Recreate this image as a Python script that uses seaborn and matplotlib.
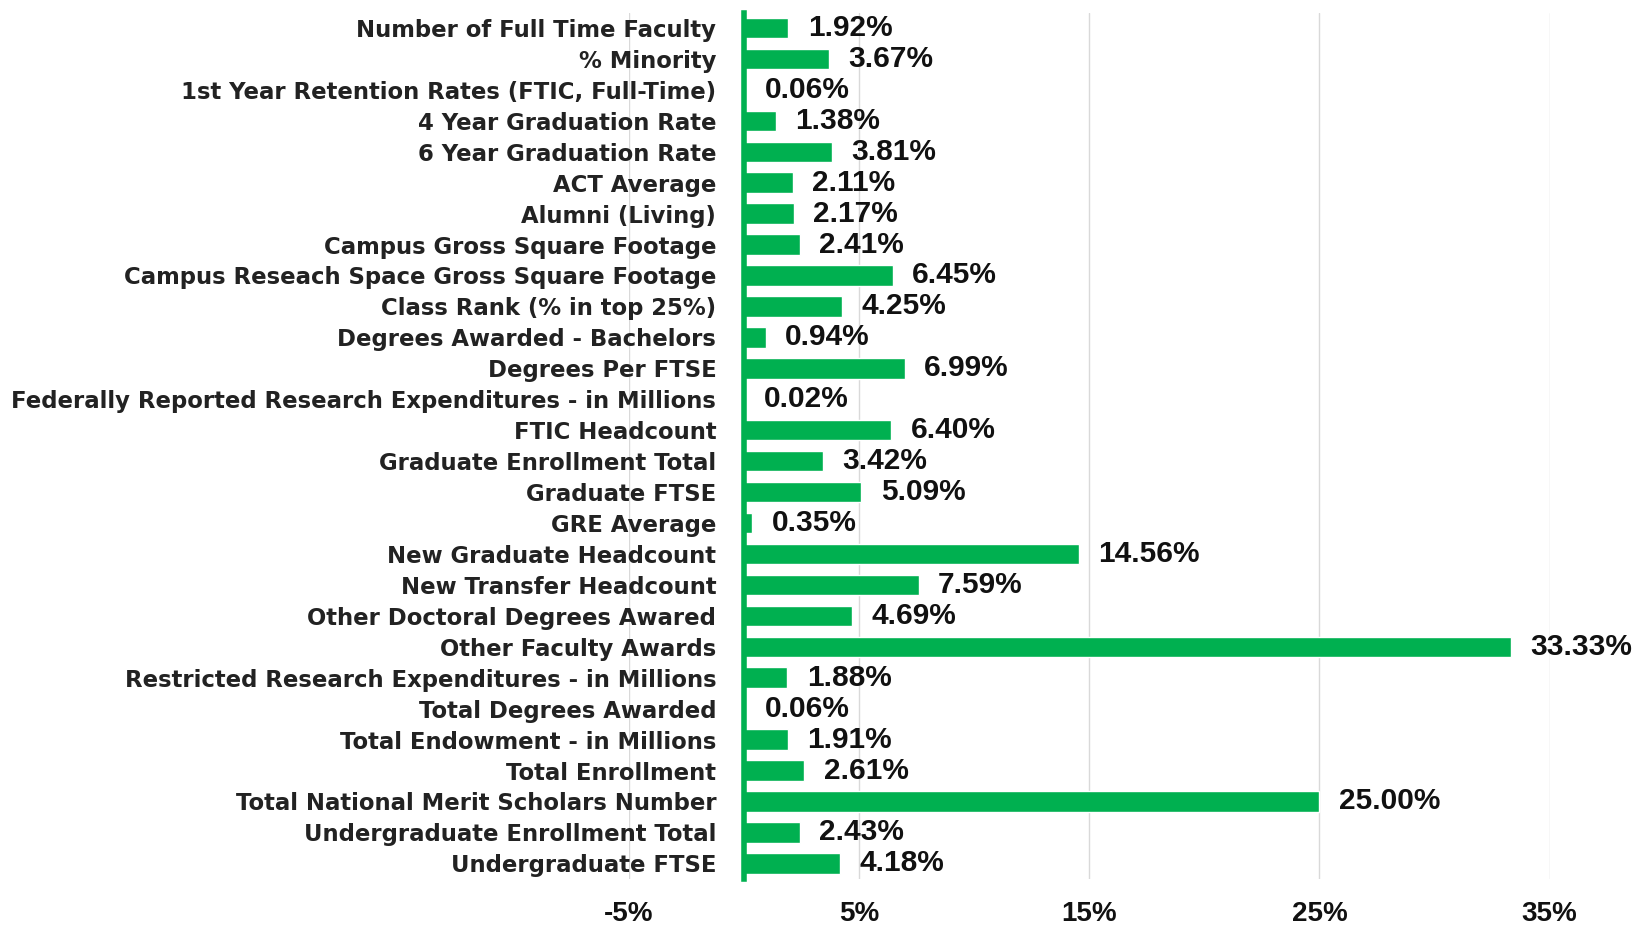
import matplotlib
matplotlib.use("Agg")
import matplotlib.pyplot as plt
import seaborn as sns
import pandas as pd
from matplotlib.ticker import FuncFormatter

categories = [
    "Number of Full Time Faculty",
    "% Minority",
    "1st Year Retention Rates (FTIC, Full-Time)",
    "4 Year Graduation Rate",
    "6 Year Graduation Rate",
    "ACT Average",
    "Alumni (Living)",
    "Campus Gross Square Footage",
    "Campus Reseach Space Gross Square Footage",
    "Class Rank (% in top 25%)",
    "Degrees Awarded - Bachelors",
    "Degrees Per FTSE",
    "Federally Reported Research Expenditures - in Millions",
    "FTIC Headcount",
    "Graduate Enrollment Total",
    "Graduate FTSE",
    "GRE Average",
    "New Graduate Headcount",
    "New Transfer Headcount",
    "Other Doctoral Degrees Awared",
    "Other Faculty Awards",
    "Restricted Research Expenditures - in Millions",
    "Total Degrees Awarded",
    "Total Endowment - in Millions",
    "Total Enrollment",
    "Total National Merit Scholars Number",
    "Undergraduate Enrollment Total",
    "Undergraduate FTSE",
]
values = [1.92, 3.67, 0.06, 1.38, 3.81, 2.11, 2.17, 2.41, 6.45, 4.25, 0.94, 6.99,
          0.02, 6.40, 3.42, 5.09, 0.35, 14.56, 7.59, 4.69, 33.33, 1.88, 0.06, 1.91,
          2.61, 25.00, 2.43, 4.18]
x_ticks = [-5, 5, 15, 25, 35]

GREEN = "#00B050"
df = pd.DataFrame({"category": categories, "value": values})

sns.set_theme(style="white")
plt.rcParams["font.family"] = ["Liberation Sans", "DejaVu Sans"]

fig = plt.figure(figsize=(16.38, 9.27), dpi=100)
ax = fig.add_axes([0.384, 0.052, 0.562, 0.9345])

sns.barplot(data=df, x="value", y="category", orient="h", color=GREEN,
            saturation=1, width=0.66, ax=ax, zorder=3)

ax.set_xlim(-5, 35)
ax.set_ylim(len(categories) - 0.5, -0.5)
ax.set_xticks(x_ticks)
ax.xaxis.set_major_formatter(FuncFormatter(lambda v, p: f"{v:.0f}%"))
ax.grid(axis="x", color="#d9d9d9", lw=1, zorder=0)
ax.grid(axis="y", visible=False)
ax.set_axisbelow(True)

for s in ["top", "right", "bottom"]:
    ax.spines[s].set_visible(False)
ax.spines["left"].set_position(("data", 0))
ax.spines["left"].set_color(GREEN)
ax.spines["left"].set_linewidth(4)
ax.spines["left"].set_zorder(4)

ax.tick_params(axis="y", length=0, pad=20, labelcolor="#222222")
ax.tick_params(axis="x", length=0, pad=16, labelsize=20, labelcolor="#111111")
for t in ax.get_yticklabels():
    t.set_fontfamily("DejaVu Sans")
    t.set_fontweight("bold")
    t.set_fontsize(16.4)
for t in ax.get_xticklabels():
    t.set_fontweight("bold")
ax.set_xlabel("")
ax.set_ylabel("")

ax.bar_label(ax.containers[0], labels=[f"{v:.2f}%" for v in values],
             padding=14, fontsize=21.5, fontweight="bold", color="#111111")

fig.savefig("out.png", dpi=100)
